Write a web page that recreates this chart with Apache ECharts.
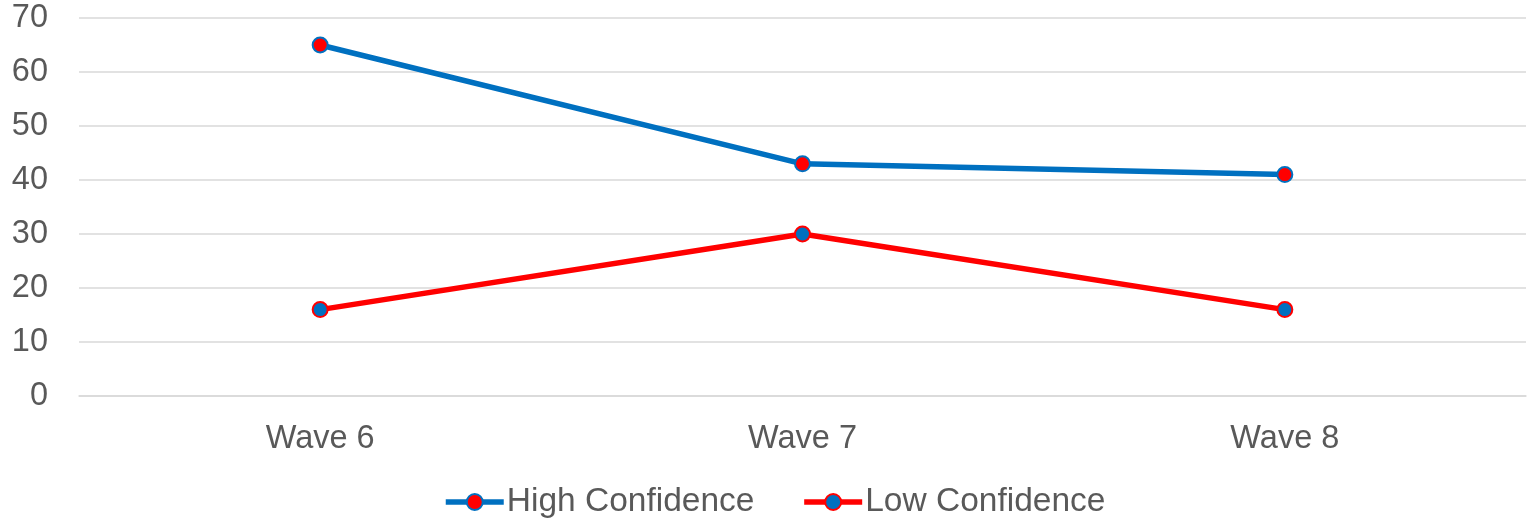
<!DOCTYPE html>
<html>
<head>
<meta charset="utf-8">
<script src="https://cdn.jsdelivr.net/npm/echarts@6/dist/echarts.min.js"></script>
<style>
html,body{margin:0;padding:0;background:#fff;}
#c{width:1529px;height:519px;}
</style>
</head>
<body>
<div id="c"></div>
<script>
var categories = ['Wave 6', 'Wave 7', 'Wave 8'];
var highConfidence = [65, 43, 41];
var lowConfidence = [16, 30, 16];
var yTicks = [0, 10, 20, 30, 40, 50, 60, 70];

var font = '"Liberation Sans", Arial, Helvetica, sans-serif';
var chart = echarts.init(document.getElementById('c'), null, {renderer: 'canvas'});
chart.setOption({
  animation: false,
  backgroundColor: '#fff',
  grid: {left: 79, right: 3, top: 18, bottom: 123, containLabel: false},
  xAxis: {
    type: 'category',
    data: categories,
    boundaryGap: true,
    axisLine: {show: true, lineStyle: {color: '#d9d9d9', width: 1.5}},
    axisTick: {show: false},
    axisLabel: {color: '#595959', fontSize: 32.5, fontFamily: font, margin: 27}
  },
  yAxis: {
    type: 'value',
    min: yTicks[0],
    max: yTicks[yTicks.length - 1],
    interval: 10,
    axisLine: {show: false},
    axisTick: {show: false},
    splitLine: {lineStyle: {color: '#d9d9d9', width: 1.5}},
    axisLabel: {color: '#595959', fontSize: 32.5, fontFamily: font, margin: 31}
  },
  legend: {
    top: 480,
    left: 438,
    itemWidth: 58,
    itemHeight: 20,
    itemGap: 47,
    lineStyle: {width: 5.5},
    textStyle: {color: '#595959', fontSize: 33.5, fontFamily: font, padding: [0, 0, 0, -2]},
    data: ['High Confidence', 'Low Confidence']
  },
  series: [
    {
      name: 'High Confidence',
      type: 'line',
      data: highConfidence,
      symbol: 'circle',
      symbolSize: 15,
      lineStyle: {color: '#0070c0', width: 5.5},
      itemStyle: {color: '#ff0000', borderColor: '#0070c0', borderWidth: 2}
    },
    {
      name: 'Low Confidence',
      type: 'line',
      data: lowConfidence,
      symbol: 'circle',
      symbolSize: 15,
      lineStyle: {color: '#ff0000', width: 5.5},
      itemStyle: {color: '#0070c0', borderColor: '#ff0000', borderWidth: 2}
    }
  ]
});
</script>
</body>
</html>
